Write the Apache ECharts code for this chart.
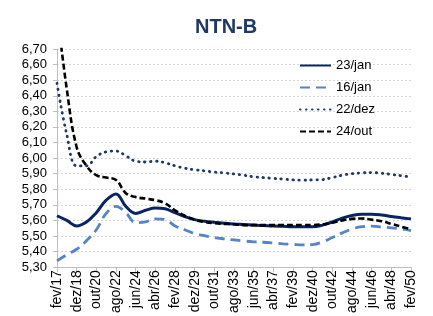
<!DOCTYPE html>
<html>
<head>
<meta charset="utf-8">
<script src="https://cdn.jsdelivr.net/npm/echarts@6/dist/echarts.min.js"></script>
<style>
  html, body { margin: 0; padding: 0; background: #fff; }
  #chart { width: 433px; height: 316px; }
</style>
</head>
<body>
<div id="chart"></div>
<script>
// tick labels on the x axis (one every second point)
var tickLabels = ['fev/17','dez/18','out/20','ago/22','jun/24','abr/26','fev/28','dez/29','out/31',
  'ago/33','jun/35','abr/37','fev/39','dez/40','out/42','ago/44','jun/46','abr/48','fev/50'];
var yTicks = [5.30,5.40,5.50,5.60,5.70,5.80,5.90,6.00,6.10,6.20,6.30,6.40,6.50,6.60,6.70];

// curves (half steps between labels)
var jan23 = [5.63,5.60,5.565,5.59,5.65,5.73,5.77,5.69,5.645,5.665,5.68,5.675,5.65,5.625,5.605,5.595,5.588,5.582,5.577,
  5.574,5.57,5.567,5.564,5.562,5.56,5.56,5.56,5.57,5.59,5.615,5.632,5.64,5.64,5.635,5.625,5.617,5.61];
var jan16 = [5.34,5.38,5.415,5.47,5.54,5.645,5.69,5.65,5.585,5.59,5.61,5.605,5.565,5.54,5.515,5.502,5.49,5.482,5.475,
  5.468,5.463,5.46,5.455,5.45,5.446,5.443,5.445,5.462,5.49,5.52,5.545,5.56,5.563,5.558,5.552,5.545,5.535];
var dez22 = [6.48,6.15,5.95,5.95,6.01,6.04,6.045,6.015,5.98,5.975,5.98,5.97,5.95,5.935,5.925,5.918,5.91,5.905,5.898,
  5.89,5.88,5.875,5.87,5.865,5.86,5.858,5.86,5.862,5.875,5.89,5.90,5.905,5.907,5.903,5.895,5.887,5.878];
var out24 = [6.95,6.44,6.07,5.95,5.89,5.875,5.86,5.775,5.75,5.74,5.73,5.71,5.665,5.63,5.605,5.59,5.582,5.578,5.575,
  5.57,5.57,5.57,5.57,5.57,5.57,5.57,5.57,5.575,5.585,5.60,5.61,5.612,5.605,5.595,5.578,5.56,5.543];

var categories = [];
tickLabels.forEach(function (t, i) {
  categories.push(t);
  if (i < tickLabels.length - 1) categories.push('');
});

var font = 'Liberation Sans';
var chart = echarts.init(document.getElementById('chart'));
chart.setOption({
  animation: false,
  title: {
    text: 'NTN-B', left: 190, top: 12,
    textStyle: { fontFamily: font, fontSize: 20, fontWeight: 'bold', color: '#1f3864' }
  },
  legend: {
    orient: 'vertical', left: 294, top: 54, itemGap: 9,
    itemWidth: 31, itemHeight: 14,
    itemStyle: { opacity: 0 },
    textStyle: { fontFamily: font, fontSize: 13, color: '#000' },
    data: ['23/jan', '16/jan', '22/dez', '24/out']
  },
  grid: { left: 57, right: 22, top: 49, bottom: 44 },
  xAxis: {
    type: 'category', data: categories, boundaryGap: false,
    axisLine: { lineStyle: { color: '#bfbfbf', width: 1 } },
    axisTick: { interval: 1, length: 5, lineStyle: { color: '#bfbfbf' } },
    axisLabel: { interval: 1, rotate: 90, margin: 3, fontFamily: font, fontSize: 14, color: '#000' },
    splitLine: { show: false }
  },
  yAxis: {
    type: 'value', min: yTicks[0], max: yTicks[yTicks.length - 1], interval: 0.1,
    axisLine: { show: true, lineStyle: { color: '#bfbfbf' } },
    axisTick: { show: true, length: 4, lineStyle: { color: '#bfbfbf' } },
    axisLabel: {
      margin: 10, fontFamily: font, fontSize: 13, color: '#000',
      formatter: function (v) { return v.toFixed(2).replace('.', ','); }
    },
    splitLine: { lineStyle: { color: '#d6d6d6', type: [2, 2], width: 1 } }
  },
  series: [
    { name: '23/jan', type: 'line', data: jan23, smooth: 0.4, symbol: 'none',
      lineStyle: { color: '#0a2463', width: 3 }, itemStyle: { color: '#0a2463' } },
    { name: '16/jan', type: 'line', data: jan16, smooth: 0.4, symbol: 'none',
      lineStyle: { color: '#5584c8', width: 2.8, type: [10, 6] }, itemStyle: { color: '#5584c8' } },
    { name: '22/dez', type: 'line', data: dez22, smooth: 0.4, symbol: 'none',
      lineStyle: { color: '#1f3864', width: 2.8, type: [0.5, 5.5], cap: 'round' }, itemStyle: { color: '#1f3864' } },
    { name: '24/out', type: 'line', data: out24, smooth: 0.4, symbol: 'none',
      lineStyle: { color: '#000', width: 2.6, type: [6, 3] }, itemStyle: { color: '#000' } }
  ]
});
</script>
</body>
</html>
